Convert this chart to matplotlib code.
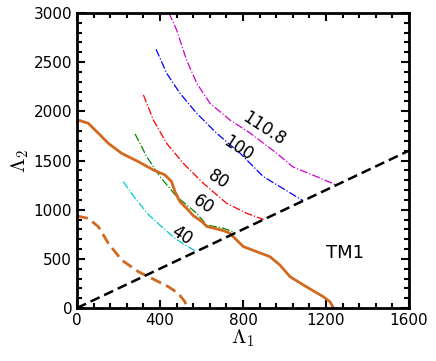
import matplotlib
matplotlib.use("Agg")
import matplotlib.pyplot as plt
from matplotlib.ticker import MultipleLocator

plt.rcParams["mathtext.fontset"] = "cm"

# TM1 boundary (solid) and the lower boundary (dashed)
tm1_x = [0, 54, 103, 151, 215, 296, 368, 424, 456, 472, 496, 536, 560, 601, 625, 705, 737, 761,
         802, 866, 930, 978, 1027, 1091, 1187, 1219, 1236]
tm1_y = [1915, 1879, 1777, 1675, 1573, 1488, 1404, 1353, 1285, 1183, 1081, 997, 940, 880, 830, 787, 760, 709,
         624, 573, 522, 437, 318, 234, 115, 64, 0]
low_x = [0, 54, 103, 151, 215, 296, 360, 440, 488, 520, 528]
low_y = [936, 912, 827, 658, 488, 369, 302, 217, 149, 64, 0]

# contour levels (dash-dot lines), ending on the diagonal
levels = ["40", "60", "80", "100", "110.8"]
colors = ["#00cccc", "#008800", "#ff0000", "#0000ff", "#cc00cc"]
c40_x = [223, 280, 344, 408, 472, 520, 575]
c40_y = [1285, 1116, 950, 827, 709, 641, 575]
c60_x = [280, 336, 400, 480, 577, 625, 705, 765]
c60_y = [1770, 1539, 1336, 1133, 963, 844, 811, 765]
c80_x = [320, 368, 432, 512, 609, 721, 818, 900]
c80_y = [2167, 1912, 1675, 1472, 1268, 1065, 963, 900]
c100_x = [381, 432, 496, 577, 673, 786, 898, 978, 1090]
c100_y = [2632, 2388, 2184, 1980, 1777, 1574, 1336, 1234, 1090]
c110_x = [443, 480, 528, 577, 641, 737, 834, 962, 1041, 1171, 1250]
c110_y = [3000, 2828, 2523, 2286, 2082, 1912, 1780, 1574, 1434, 1322, 1250]
contour_x = [c40_x, c60_x, c80_x, c100_x, c110_x]
contour_y = [c40_y, c60_y, c80_y, c100_y, c110_y]
label_pos = [(506, 742), (609, 1048), (681, 1302), (777, 1625), (898, 1828)]

fig = plt.figure(figsize=(4.36, 3.61), dpi=100)
ax = fig.add_axes([0.1766, 0.1468, 0.7614, 0.8172])

for xs, ys, c in zip(contour_x, contour_y, colors):
    ax.plot(xs, ys, color=c, lw=0.9, ls="-.")
for lab, (lx, ly) in zip(levels, label_pos):
    ax.text(lx, ly, lab, fontsize=12, rotation=-33, ha="center", va="center")

ax.plot(tm1_x, tm1_y, color="#d2691e", lw=2)
ax.plot(low_x, low_y, color="#d2691e", lw=2, ls=(0, (4, 2)))
ax.plot([0, 1600], [0, 1600], color="black", lw=1.8, ls=(0, (4, 2)))

ax.text(1292, 560, "TM1", fontsize=13, ha="center", va="center")

ax.set_xlim(0, 1600)
ax.set_ylim(0, 3000)
ax.xaxis.set_major_locator(MultipleLocator(400))
ax.xaxis.set_minor_locator(MultipleLocator(80))
ax.yaxis.set_major_locator(MultipleLocator(500))
ax.yaxis.set_minor_locator(MultipleLocator(100))
ax.tick_params(which="both", direction="in", top=True, right=True, width=1.5, labelsize=11)
ax.tick_params(which="major", length=6)
ax.tick_params(which="minor", length=3.5)
for s in ax.spines.values():
    s.set_linewidth(2)
ax.set_xlabel(r"$\Lambda_1$", fontsize=15, labelpad=0)
ax.set_ylabel(r"$\Lambda_2$", fontsize=15, labelpad=2)

fig.savefig("out.png", dpi=100)
